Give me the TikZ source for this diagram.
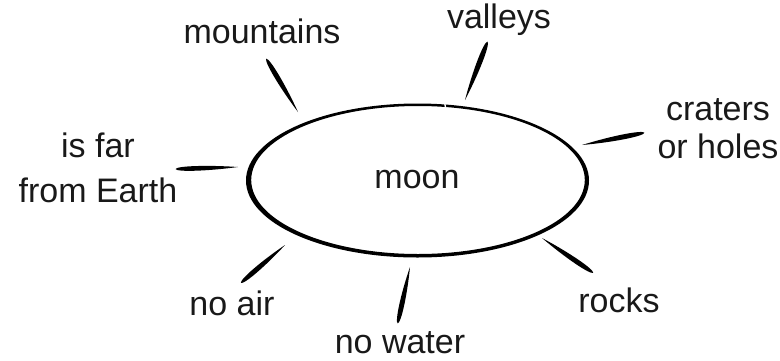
\documentclass[tikz,border=0pt]{standalone}
\usepackage{fontspec}
\setmainfont{Liberation Sans}
\usetikzlibrary{calc}
\newcommand\brushstroke[3]{%
  \fill[black] (#2) .. controls ($(#1)!0.5!(#2)!#3!90:(#2)$) and ($(#1)!#3!90:(#2)$)
    .. ($(#1)!-1.5pt!(#2)$) .. controls ($(#1)!#3!-90:(#2)$) and ($(#1)!0.5!(#2)!#3!-90:(#2)$)
    .. (#2);}
\begin{document}
\begin{tikzpicture}[x=1pt,y=-1pt,
  lbl/.style={font=\fontsize{34}{38}\selectfont, text=black!90, inner sep=0pt, anchor=base}]
\useasboundingbox (0,0) rectangle (780,360);
% moon outline (hand-drawn look, varying thickness)
\fill[black, even odd rule] (417.5,180.5) ellipse [x radius=171.5, y radius=77]
                            (418,180) ellipse [x radius=166.8, y radius=74];
\draw[white, line width=1.3pt] (444,100) -- (446.5,112);
% labels
\node[lbl] (moon) at (417,188) {moon};
\node[lbl] (mountains) at (262,43) {mountains};
\node[lbl] (valleys) at (499,28) {valleys};
\node[lbl] (craters) at (718,120) {\fontsize{34}{38}\selectfont\setlength\tabcolsep{0pt}\begin{tabular}[t]{c}craters\\or holes\end{tabular}};
\node[lbl] (far) at (98,157) {\fontsize{34}{45}\selectfont\setlength\tabcolsep{0pt}\begin{tabular}[t]{c}is far\\from Earth\end{tabular}};
\node[lbl] (noair) at (232,315) {no air};
\node[lbl] (nowater) at (400,353) {no water};
\node[lbl] (rocks) at (619,312) {rocks};
% ray end points
\coordinate (mA) at (267,60);  \coordinate (mB) at (298,112);
\coordinate (vA) at (487,43);  \coordinate (vB) at (465,100);
\coordinate (cA) at (643,133); \coordinate (cB) at (582,145);
\coordinate (fA) at (177,169); \coordinate (fB) at (238,167);
\coordinate (aA) at (242,282); \coordinate (aB) at (285,245);
\coordinate (wA) at (398,322); \coordinate (wB) at (410,267);
\coordinate (rA) at (592,272); \coordinate (rB) at (542,238);
\brushstroke{mA}{mB}{3.3pt}
\brushstroke{vA}{vB}{3.5pt}
\brushstroke{cA}{cB}{3.3pt}
\brushstroke{fA}{fB}{3.1pt}
\brushstroke{aA}{aB}{3.3pt}
\brushstroke{wA}{wB}{3.3pt}
\brushstroke{rA}{rB}{3.3pt}
\end{tikzpicture}
\end{document}
